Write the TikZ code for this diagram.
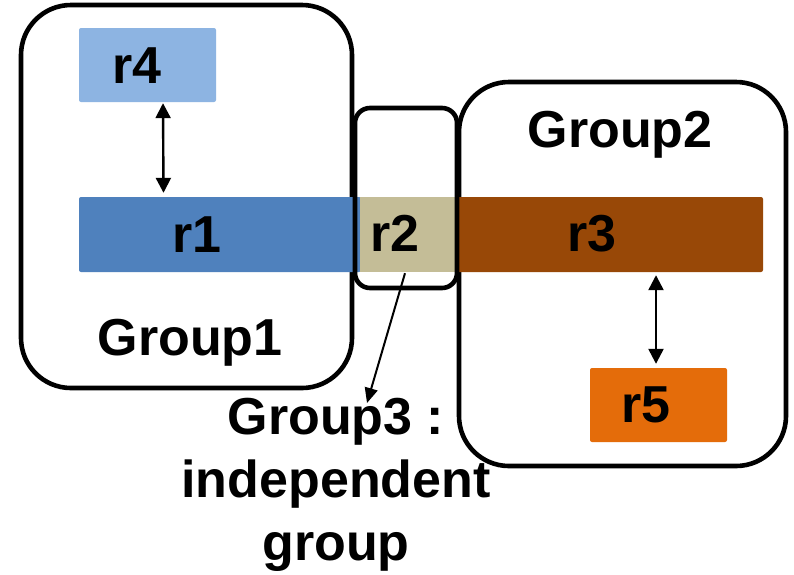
\documentclass[tikz,border=0pt]{standalone}
\usepackage{fontspec}
\setmainfont{Liberation Sans}
\usetikzlibrary{arrows.meta,calc}
\definecolor{rlight}{HTML}{8DB4E2}
\definecolor{rblue}{HTML}{4F81BD}
\definecolor{rtan}{HTML}{C4BD97}
\definecolor{rbrown}{HTML}{984807}
\definecolor{rorange}{HTML}{E46C0A}
\begin{document}
\begin{tikzpicture}[x=1pt,y=-1pt,
  groupframe/.style={draw=black,line width=4.6pt,rounded corners=#1},
  region/.style={rectangle,rounded corners=2pt,inner sep=0pt,draw=none},
  lbl/.style={font=\fontsize{52}{63}\selectfont\bfseries,inner sep=0pt,anchor=base},
  link/.style={line width=2.4pt,{Triangle[length=15pt,width=15pt]}-{Triangle[length=15pt,width=15pt]}},
  pointer/.style={line width=2pt,-{Triangle[length=15pt,width=13pt]}}]
\useasboundingbox (0,0) rectangle (794,574);
\fill[white] (0,0) rectangle (794,574);

% outer group frames
\draw[groupframe=50pt] (21,5) rectangle (352,388);
\draw[groupframe=50pt] (459,82) rectangle (786,466);

% regions
\node[region,fill=rlight,minimum width=137pt,minimum height=74pt] (r4) at (147.5,65) {};
\node[region,fill=rblue,minimum width=282pt,minimum height=75pt] (r1) at (220,234.5) {};
\node[region,fill=rbrown,minimum width=308pt,minimum height=75pt] (r3) at (609,234.5) {};
\node[region,fill=rtan,rounded corners=0pt,minimum width=96pt,minimum height=75pt] (r2) at (407.5,234.5) {};
\node[region,fill=rorange,minimum width=137pt,minimum height=74pt] (r5) at (658.5,405) {};

% the independent group frame sits on top of the bars
\draw[groupframe=15pt] (355,108) rectangle (457,288);

% labels
\node[lbl] (t4) at (137,83) {r4};
\node[lbl] (t1) at (197,252) {r1};
\node[lbl] (t2) at (395,251) {r2};
\node[lbl] (t3) at (592,251) {r3};
\node[lbl] (t5) at (646,422) {r5};
\node[lbl] (g1) at (190,355) {Group1};
\node[lbl] (g2) at (620,147) {Group2};
\node[lbl,anchor=north,align=center] (g3) at (336,398) {Group3 :\\independent\\group};

% connectors
\coordinate (g3tip) at (367,403);
\draw[link] ($(r4.south)+(15.5,1)$) -- ($(r1.north)+(-56.5,-4)$);
\draw[link] ($(r3.south)+(47,3)$) -- ($(r5.north)+(-2.5,-4)$);
\draw[pointer] ($(r2.south)+(-2.5,1)$) -- (g3tip);
\end{tikzpicture}
\end{document}
